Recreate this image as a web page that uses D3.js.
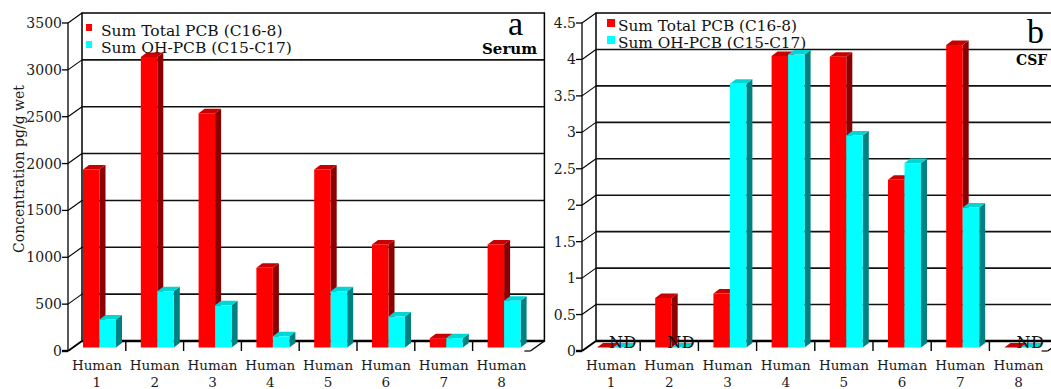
<!DOCTYPE html>
<html>
<head>
<meta charset="utf-8">
<script src="https://cdn.jsdelivr.net/npm/d3@7"></script>
<style>
  html, body { margin: 0; padding: 0; background: #fff; }
  svg { display: block; }
</style>
</head>
<body>
<svg id="chart" width="1051" height="389"></svg>
<script>
// ---------------- data ----------------
const categories = ["Human 1", "Human 2", "Human 3", "Human 4", "Human 5", "Human 6", "Human 7", "Human 8"];
const seriesNames = ["Sum Total PCB (C16-8)", "Sum OH-PCB (C15-C17)"];

// Panel a: Serum (pg/g wet)
const serumTotalPCB = [1900, 3100, 2500, 850, 1900, 1100, 100, 1100];
const serumOHPCB    = [300, 600, 450, 120, 600, 330, 100, 500];
const serumTicks    = [0, 500, 1000, 1500, 2000, 2500, 3000, 3500];
const serumTickLabels = ["0", "500", "1000", "1500", "2000", "2500", "3000", "3500"];

// Panel b: CSF
const csfTotalPCB = [0, 0.68, 0.74, 4.0, 3.99, 2.3, 4.15, 0];
const csfOHPCB    = [0, 0, 3.62, 4.02, 2.91, 2.53, 1.92, 0];
const csfNDCategories = ["Human 1", "Human 2", "Human 8"];
const csfTicks    = [0, 0.5, 1, 1.5, 2, 2.5, 3, 3.5, 4, 4.5];
const csfTickLabels = ["0", "0.5", "1", "1.5", "2", "2.5", "3", "3.5", "4", "4.5"];

const yAxisTitle = "Concentration pg/g wet";

// ---------------- drawing ----------------
const svg = d3.select("#chart");
const serif = "'DejaVu Serif', serif";
const colors = {
  total: { front: "#ff0000", side: "#8a0000", top: "#c80000" },
  oh:    { front: "#00ffff", side: "#008080", top: "#00d6d6" }
};

function drawPanel(p) {
  const g = svg.append("g");
  const WD = { dx: 14, dy: -10 };        // wall depth
  const BD = { dx: 6, dy: -4.5 };        // bar depth
  const bw = p.bandWidth;
  const x = d3.scaleBand().domain(categories).range([p.x0, p.x0 + bw * categories.length]).paddingInner(0).paddingOuter(0);
  const sub = d3.scaleBand().domain(["total", "oh"]).range([15, 48]).padding(0);
  const y = d3.scaleLinear().domain([0, p.yMax]).range([351, 23]);
  const xEnd = p.x0 + bw * categories.length;

  // back wall
  g.append("rect")
    .attr("x", p.x0 + WD.dx).attr("y", y(p.yMax) + WD.dy)
    .attr("width", xEnd - p.x0).attr("height", y(0) - y(p.yMax))
    .attr("fill", "#fff").attr("stroke", "#000").attr("stroke-width", 1.5);
  // gridlines on back wall
  g.selectAll("line.grid").data(p.ticks.filter(t => t > 0 && t < p.yMax)).enter().append("line")
    .attr("x1", p.x0 + WD.dx).attr("x2", xEnd + WD.dx)
    .attr("y1", d => y(d) + WD.dy).attr("y2", d => y(d) + WD.dy)
    .attr("stroke", "#111").attr("stroke-width", 1.6);

  // legend (on wall)
  const lg = g.append("g");
  seriesNames.forEach((name, i) => {
    const key = i === 0 ? "total" : "oh";
    lg.append("rect")
      .attr("x", p.legend.sqX).attr("y", p.legend.sqY[i])
      .attr("width", p.legend.sqW).attr("height", p.legend.sqH)
      .attr("fill", colors[key].front);
    lg.append("text")
      .attr("x", p.legend.textX).attr("y", p.legend.baseY[i])
      .attr("font-family", serif).attr("font-size", p.legend.fontSize)
      .attr("fill", "#111")
      .text(name);
  });

  // panel letter + name
  g.append("text").attr("x", p.letter.x).attr("y", p.letter.y)
    .attr("font-family", "'Liberation Serif', serif").attr("font-size", 34).attr("fill", "#000")
    .text(p.letter.text);
  g.append("text").attr("x", p.name.x).attr("y", p.name.y)
    .attr("font-family", serif).attr("font-weight", "bold").attr("font-size", p.name.size || 15)
    .attr("letter-spacing", p.name.ls || 0)
    .attr("fill", "#000").text(p.name.text);

  // floor
  const y0 = y(0);
  g.append("line").attr("x1", p.x0 + WD.dx).attr("x2", xEnd + WD.dx)
    .attr("y1", y0 + WD.dy).attr("y2", y0 + WD.dy)
    .attr("stroke", "#000").attr("stroke-width", 2.6);
  g.append("line").attr("x1", xEnd).attr("y1", y0).attr("x2", xEnd + WD.dx).attr("y2", y0 + WD.dy)
    .attr("stroke", "#000").attr("stroke-width", 1.4);
  g.append("line").attr("x1", xEnd - 6).attr("y1", y0).attr("x2", xEnd).attr("y2", y0)
    .attr("stroke", "#000").attr("stroke-width", 1.2);
  g.selectAll("line.xtick").data(categories.slice(1)).enter().append("line")
    .attr("x1", d => x(d)).attr("x2", d => x(d))
    .attr("y1", y0 + WD.dy).attr("y2", y0)
    .attr("stroke", "#000").attr("stroke-width", 1.4);

  // front y axis
  g.append("line").attr("x1", p.x0).attr("x2", p.x0).attr("y1", y(p.yMax)).attr("y2", y0)
    .attr("stroke", "#000").attr("stroke-width", 1.3);
  const tk = g.selectAll("g.ytick").data(p.ticks).enter().append("g");
  tk.append("line").attr("x1", p.x0 - 6).attr("x2", p.x0).attr("y1", d => y(d)).attr("y2", d => y(d))
    .attr("stroke", "#000").attr("stroke-width", d => d === 0 ? 2.4 : 1.3);
  tk.append("line").attr("x1", p.x0).attr("x2", p.x0 + WD.dx).attr("y1", d => y(d)).attr("y2", d => y(d) + WD.dy)
    .attr("stroke", "#000").attr("stroke-width", d => d === 0 ? 2 : 1.1);
  tk.append("text").attr("x", p.x0 - 6).attr("y", d => y(d) + 5)
    .attr("text-anchor", "end").attr("font-family", serif).attr("font-size", 14).attr("fill", "#1a1a1a")
    .text((d, i) => p.tickLabels[i]);

  // bars
  const yb = v => y(v) - 3.5;
  categories.forEach((c, i) => {
    [["total", p.total[i]], ["oh", p.oh[i]]].forEach(([key, v]) => {
      const bx = x(c) + sub(key), w = sub.bandwidth();
      const top = yb(v), bot = yb(0);
      const col = colors[key];
      g.append("polygon")
        .attr("points", [[bx + w, top], [bx + w + BD.dx, top + BD.dy], [bx + w + BD.dx, bot + BD.dy], [bx + w, bot]].join(" "))
        .attr("fill", col.side);
      g.append("polygon")
        .attr("points", [[bx, top], [bx + BD.dx, top + BD.dy], [bx + w + BD.dx, top + BD.dy], [bx + w, top]].join(" "))
        .attr("fill", col.top);
      g.append("rect").attr("x", bx).attr("y", top).attr("width", w).attr("height", bot - top)
        .attr("fill", col.front);
    });
  });

  // ND labels
  if (p.nd) {
    g.selectAll("text.nd").data(p.nd).enter().append("text")
      .attr("x", d => x(d) + 41).attr("y", yb(0) + 0.5)
      .attr("text-anchor", "middle").attr("font-family", serif).attr("font-size", 16)
      .attr("letter-spacing", 0.5).attr("fill", "#111")
      .text("ND");
  }

  // x labels
  const xl = g.selectAll("text.xl").data(categories).enter().append("text")
    .attr("text-anchor", "middle").attr("font-family", serif).attr("font-size", 13.5).attr("fill", "#1a1a1a");
  xl.append("tspan").attr("x", d => x(d) + bw / 2).attr("y", 370).text(d => d.split(" ")[0]);
  xl.append("tspan").attr("x", d => x(d) + bw / 2).attr("y", 387).text(d => d.split(" ")[1]);
}

drawPanel({
  x0: 68, bandWidth: 57.8, yMax: 3500,
  ticks: serumTicks, tickLabels: serumTickLabels,
  total: serumTotalPCB, oh: serumOHPCB, nd: null,
  legend: { sqX: 86, sqY: [24, 41], sqW: 6, sqH: 7, textX: 101, baseY: [35.5, 53], fontSize: 15.5 },
  letter: { x: 508, y: 35, text: "a" },
  name: { x: 482, y: 54, text: "Serum" }
});

drawPanel({
  x0: 582, bandWidth: 58.2, yMax: 4.5,
  ticks: csfTicks, tickLabels: csfTickLabels,
  total: csfTotalPCB, oh: csfOHPCB, nd: csfNDCategories,
  legend: { sqX: 607, sqY: [19, 36], sqW: 8, sqH: 8, textX: 618, baseY: [30.5, 47.5], fontSize: 15.3 },
  letter: { x: 1027, y: 43, text: "b" },
  name: { x: 1016, y: 65, text: "CSF", size: 14, ls: 0 }
});

// y axis title (panel a)
svg.append("text")
  .attr("transform", "translate(24,169) rotate(-90)")
  .attr("text-anchor", "middle").attr("font-family", serif).attr("font-size", 14).attr("fill", "#1a1a1a")
  .text(yAxisTitle);
</script>
</body>
</html>
